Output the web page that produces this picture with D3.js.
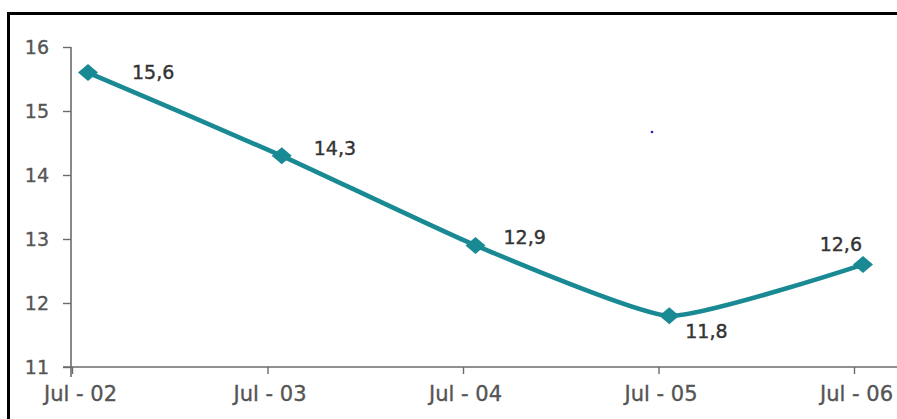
<!DOCTYPE html>
<html>
<head>
<meta charset="utf-8">
<script src="https://cdn.jsdelivr.net/npm/d3@7"></script>
<style>
  html, body { margin: 0; padding: 0; background: #fff; }
  svg { display: block; }
</style>
</head>
<body>
<svg id="chart" width="897" height="419"></svg>
<script>
const categories = ["Jul - 02", "Jul - 03", "Jul - 04", "Jul - 05", "Jul - 06"];
const values = [15.6, 14.3, 12.9, 11.8, 12.6];
const valueLabels = ["15,6", "14,3", "12,9", "11,8", "12,6"];
const yTicks = [11, 12, 13, 14, 15, 16];

// label placement (style only)
const labelOffsets = [[44, 0, "start"], [32, -8, "start"], [28, -8, "start"], [16, 15, "start"], [-1, -20, "end"]];

const svg = d3.select("#chart");

// frame
svg.append("rect").attr("x", 8.5).attr("y", 13.5).attr("width", 900).attr("height", 420)
  .attr("fill", "none").attr("stroke", "#000").attr("stroke-width", 3);

const y = d3.scaleLinear().domain([11, 16]).range([367, 47]);
const xTick = d3.scalePoint().domain(categories).range([72, 854]);
const xData = d3.scalePoint().domain(categories).range([88, 863]);

const axisColor = "#6b6b6b";
const font = "'DejaVu Sans', sans-serif";

// y axis
const yAxis = d3.axisLeft(y).tickValues(yTicks).tickFormat(d3.format("d")).tickSize(8).tickPadding(14);
const gy = svg.append("g").attr("transform", "translate(71,0)").call(yAxis);
gy.select(".domain").attr("d", "M0,47V377").attr("stroke", axisColor).attr("stroke-width", 1.6);
gy.selectAll(".tick line").attr("stroke", axisColor).attr("stroke-width", 1.4);
gy.selectAll(".tick text").attr("font-family", font).attr("font-size", 19).attr("fill", "#555")
  .attr("stroke", "#555").attr("stroke-width", 0.35);

// x axis
const xAxis = d3.axisBottom(xTick).tickSize(7).tickPadding(12);
const gx = svg.append("g").attr("transform", "translate(0,367)").call(xAxis);
gx.select(".domain").attr("d", "M63,0H897").attr("stroke", axisColor).attr("stroke-width", 1.6);
gx.selectAll(".tick line").attr("stroke", axisColor).attr("stroke-width", 1.4);
gx.selectAll(".tick text").attr("font-family", font).attr("font-size", 21).attr("fill", "#555")
  .attr("stroke", "#555").attr("stroke-width", 0.35)
  .attr("dx", (d, i) => i === 0 ? 8 : 2);

const pts = categories.map((c, i) => ({ c, v: values[i], i }));

// line
const line = d3.line().x(d => xData(d.c)).y(d => y(d.v)).curve(d3.curveCardinal.tension(0.5));
svg.append("path").datum(pts).attr("d", line)
  .attr("fill", "none").attr("stroke", "#198a93").attr("stroke-width", 4.6).attr("stroke-linejoin", "round");

// markers (wide diamonds)
svg.selectAll(".mk").data(pts).enter().append("path")
  .attr("class", "mk")
  .attr("d", "M-10,0L0,-8.5L10,0L0,8.5Z")
  .attr("transform", d => `translate(${xData(d.c)},${y(d.v)})`)
  .attr("fill", "#198a93");

// value labels
svg.selectAll(".lbl").data(pts).enter().append("text")
  .attr("class", "lbl")
  .attr("x", d => xData(d.c) + labelOffsets[d.i][0])
  .attr("y", d => y(d.v) + labelOffsets[d.i][1])
  .attr("dy", "0.36em")
  .attr("text-anchor", d => labelOffsets[d.i][2])
  .attr("font-family", font).attr("font-size", 19).attr("fill", "#333")
  .attr("stroke", "#333").attr("stroke-width", 0.4)
  .text(d => valueLabels[d.i]);

// stray dot from the original image
svg.append("circle").attr("cx", 652).attr("cy", 132).attr("r", 1.3).attr("fill", "#2a1fb0");
</script>
</body>
</html>
